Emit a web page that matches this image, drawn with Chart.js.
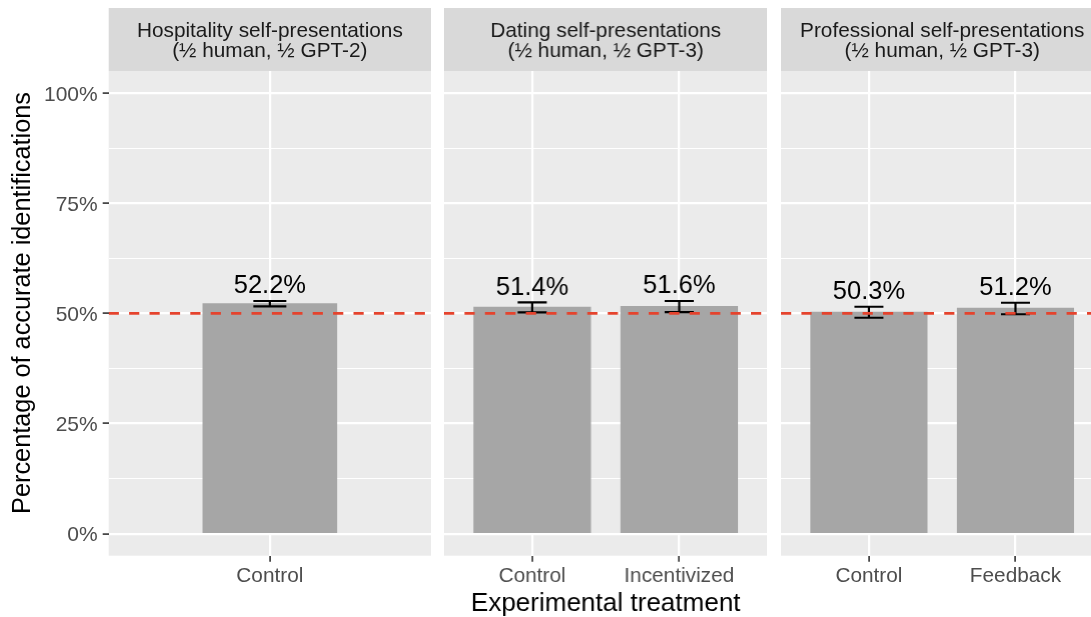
<!DOCTYPE html>
<html>
<head>
<meta charset="utf-8">
<script src="https://cdn.jsdelivr.net/npm/chart.js@4.4.1/dist/chart.umd.min.js"></script>
<style>
  html, body { margin: 0; padding: 0; background: #fff; }
  body { width: 1091px; height: 617px; overflow: hidden; position: relative; }
  .panel { position: absolute; top: 0; height: 617px; }
</style>
</head>
<body>
<div class="panel" style="left:0;width:431px"><canvas id="cHosp"></canvas></div>
<div class="panel" style="left:444.3px;width:322.4px"><canvas id="cDating"></canvas></div>
<div class="panel" style="left:780.5px;width:322.4px"><canvas id="cProf"></canvas></div>
<script>
// facet strips (two lines each)
const stripHospitality = ['Hospitality self-presentations', '(½ human, ½ GPT-2)'];
const stripDating = ['Dating self-presentations', '(½ human, ½ GPT-3)'];
const stripProfessional = ['Professional self-presentations', '(½ human, ½ GPT-3)'];

// treatments per facet
const hospitalityCats = ['Control'];
const datingCats = ['Control', 'Incentivized'];
const professionalCats = ['Control', 'Feedback'];

// % accurate identifications + error bar ends
const hospitalityAcc = [52.2];
const hospitalityLow = [51.6];
const hospitalityHigh = [52.8];

const datingAcc = [51.4, 51.6];
const datingLow = [50.2, 50.3];
const datingHigh = [52.5, 52.8];

const professionalAcc = [50.3, 51.2];
const professionalLow = [49.0, 49.8];
const professionalHigh = [51.5, 52.4];

const yTicks = [0, 25, 50, 75, 100];
const yMinor = [12.5, 37.5, 62.5, 87.5];
const chanceLevel = 50;

const yTitle = 'Percentage of accurate identifications';
const xTitle = 'Experimental treatment';

const FONT = '"Liberation Sans", Arial, Helvetica, sans-serif';
Chart.defaults.font.family = FONT;
Chart.defaults.animation = false;

const isMajor = v => yTicks.includes(v);

// panel background, strip, error bars, value labels, 50% chance line
const facetPlugin = {
  id: 'facet',
  beforeDraw(chart, args, o) {
    const { ctx, chartArea: a } = chart;
    ctx.save();
    ctx.fillStyle = '#ebebeb';
    ctx.fillRect(a.left, a.top, a.right - a.left, a.bottom - a.top);
    ctx.fillStyle = '#d9d9d9';
    ctx.fillRect(a.left, 8, a.right - a.left, a.top - 8);
    ctx.fillStyle = '#1a1a1a';
    ctx.font = '20.8px ' + FONT;
    ctx.textAlign = 'center';
    ctx.textBaseline = 'alphabetic';
    const cx = (a.left + a.right) / 2;
    ctx.fillText(o.strip[0], cx, 36.7);
    ctx.fillText(o.strip[1], cx, 57.3);
    ctx.restore();
  },
  afterDatasetsDraw(chart, args, o) {
    const { ctx, chartArea: a, scales: { x, y } } = chart;
    ctx.save();
    ctx.strokeStyle = '#000';
    ctx.lineWidth = 2.2;
    o.low.forEach((lo, i) => {
      const px = x.getPixelForValue(i + 1);
      const y0 = y.getPixelForValue(lo), y1 = y.getPixelForValue(o.high[i]);
      const h = o.cap / 2;
      ctx.beginPath();
      ctx.moveTo(px, y0); ctx.lineTo(px, y1);
      ctx.moveTo(px - h, y0); ctx.lineTo(px + h, y0);
      ctx.moveTo(px - h, y1); ctx.lineTo(px + h, y1);
      ctx.stroke();
    });
    ctx.fillStyle = '#000';
    ctx.font = '25.5px ' + FONT;
    ctx.textAlign = 'center';
    ctx.textBaseline = 'alphabetic';
    o.values.forEach((v, i) => {
      ctx.fillText(v.toFixed(1) + '%', x.getPixelForValue(i + 1), y.getPixelForValue(o.high[i]) - 7.6);
    });
    ctx.beginPath();
    ctx.rect(a.left, a.top, a.right - a.left, a.bottom - a.top);
    ctx.clip();
    ctx.strokeStyle = '#e5432d';
    ctx.lineWidth = 2.6;
    ctx.setLineDash([10.2, 10.2]);
    const cy = y.getPixelForValue(chanceLevel);
    ctx.beginPath();
    ctx.moveTo(a.left, cy); ctx.lineTo(a.right, cy);
    ctx.stroke();
    ctx.restore();
  },
  afterDraw(chart, args, o) {
    if (!o.yTitle) return;
    const { ctx } = chart;
    ctx.save();
    ctx.translate(23, 303);
    ctx.rotate(-Math.PI / 2);
    ctx.fillStyle = '#000';
    ctx.font = '25.3px ' + FONT;
    ctx.textAlign = 'center';
    ctx.textBaseline = 'middle';
    ctx.fillText(o.yTitle, 0, 0);
    ctx.restore();
  }
};

function makePanel(id, strip, cats, values, low, high, opt) {
  return new Chart(document.getElementById(id), {
    type: 'bar',
    data: {
      datasets: [{
        data: values.map((v, i) => ({ x: i + 1, y: v })),
        backgroundColor: '#a6a6a6',
        borderWidth: 0,
        barThickness: opt.barPx
      }]
    },
    plugins: [facetPlugin],
    options: {
      responsive: true,
      maintainAspectRatio: false,
      layout: { padding: { top: 71, left: 0, right: 0, bottom: 0 } },
      plugins: {
        legend: { display: false },
        tooltip: { enabled: false },
        facet: { strip, values, low, high, cap: opt.capPx, yTitle: opt.yTitle }
      },
      scales: {
        x: {
          type: 'linear', min: 0.4, max: cats.length + 0.6, offset: false,
          afterBuildTicks: s => { s.ticks = cats.map((c, i) => ({ value: i + 1 })); },
          afterFit: s => { s.height = 61.3; },
          grid: { offset: false, color: '#fff', lineWidth: 2.2, tickColor: '#333', tickLength: 6, tickWidth: 1.6 },
          border: { display: false },
          ticks: { autoSkip: false, maxRotation: 0, padding: 2, color: '#4d4d4d', font: { size: 20.8 },
                   callback: v => cats[v - 1] },
          title: opt.xTitle
            ? { display: true, text: opt.xTitle, color: '#000', font: { size: 26, lineHeight: 1 }, padding: 0 }
            : { display: false }
        },
        y: {
          min: -5, max: 105,
          afterBuildTicks: s => { s.ticks = [...yTicks, ...yMinor].sort((a, b) => a - b).map(v => ({ value: v })); },
          afterFit: s => { s.width = opt.showY ? 108.7 : 0; },
          grid: {
            color: '#fff',
            lineWidth: c => (c.tick && isMajor(c.tick.value)) ? 2.2 : 1.1,
            drawTicks: opt.showY,
            tickColor: c => (c.tick && isMajor(c.tick.value)) ? '#333' : 'rgba(0,0,0,0)',
            tickLength: 6, tickWidth: 1.6
          },
          border: { display: false },
          ticks: { display: opt.showY, autoSkip: false, padding: 5, labelOffset: 2, color: '#4d4d4d', font: { size: 21 },
                   callback: v => isMajor(v) ? v + '%' : '' }
        }
      }
    }
  });
}

makePanel('cHosp', stripHospitality, hospitalityCats, hospitalityAcc, hospitalityLow, hospitalityHigh,
  { barPx: 134, capPx: 33, showY: true, yTitle });
makePanel('cDating', stripDating, datingCats, datingAcc, datingLow, datingHigh,
  { barPx: 116.5, capPx: 29, showY: false, xTitle });
makePanel('cProf', stripProfessional, professionalCats, professionalAcc, professionalLow, professionalHigh,
  { barPx: 116.5, capPx: 29, showY: false });
</script>
</body>
</html>
